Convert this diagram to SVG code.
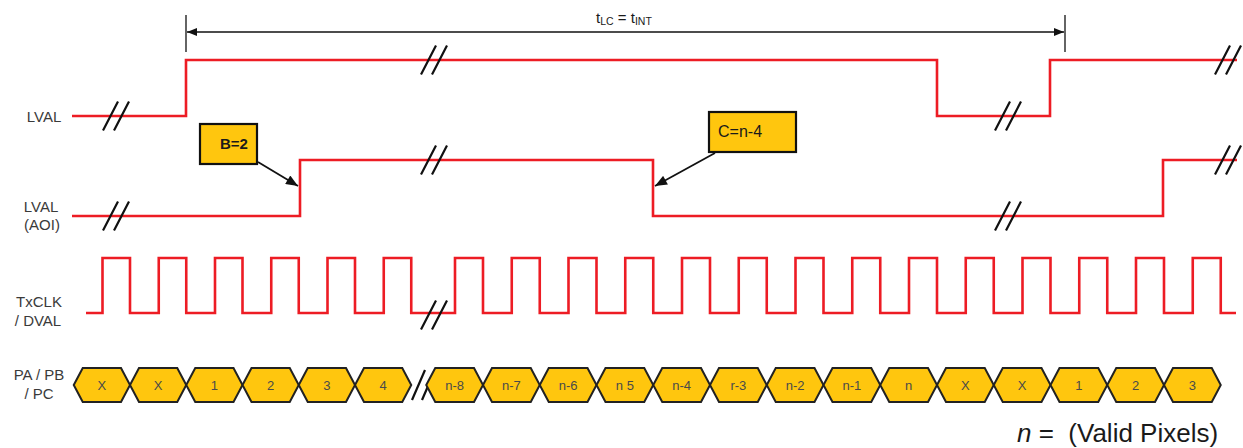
<svg xmlns="http://www.w3.org/2000/svg" width="1243" height="448" viewBox="0 0 1243 448">
<style>
.sig{fill:none;stroke:#ED1C24;stroke-width:2.6;stroke-linejoin:miter}
.brk{fill:none;stroke:#111;stroke-width:2.2}
.lbl{font-family:"Liberation Sans",Arial,sans-serif;font-size:15px;fill:#3a3a3a;text-anchor:middle}
.hex{fill:#FFC60E;stroke:#222;stroke-width:2}
.ht{font-family:"Liberation Sans",Arial,sans-serif;font-size:13px;fill:#4a4a4a;text-anchor:middle}
.box{fill:#FFC60E;stroke:#111;stroke-width:2.2}
.bt{font-family:"Liberation Sans",Arial,sans-serif;fill:#1a1a1a}
.dim{stroke:#111;stroke-width:1.3;fill:none}
.call{stroke:#111;stroke-width:1.8;fill:none}
</style>
<defs>
<marker id="ah" viewBox="0 0 10 8" refX="10" refY="4" markerWidth="11" markerHeight="8" orient="auto-start-reverse" markerUnits="userSpaceOnUse"><path d="M0,0 L10,4 L0,8 z" fill="#111"/></marker>
<marker id="ah2" viewBox="0 0 12 10" refX="12" refY="5" markerWidth="13" markerHeight="10" orient="auto" markerUnits="userSpaceOnUse"><path d="M0,0 L12,5 L0,10 z" fill="#111"/></marker>
<path id="br" class="brk" d="M-13,14.5 L2,-14.5 M-2,14.5 L13,-14.5"/>
</defs>

<g id="dimension">
<line class="dim" x1="186" y1="15" x2="186" y2="52"/>
<line class="dim" x1="1065" y1="15" x2="1065" y2="52"/>
<text class="bt" x="596" y="23" font-size="15" fill="#333">t<tspan font-size="10.5" dy="2">LC</tspan><tspan dy="-2"> = t</tspan><tspan font-size="10.5" dy="2">INT</tspan></text>
</g>

<g id="labels">
<text class="lbl" x="44" y="122">LVAL</text>
<text class="lbl" x="41" y="212">LVAL</text>
<text class="lbl" x="42" y="230">(AOI)</text>
<text class="lbl" x="39" y="307">TxCLK</text>
<text class="lbl" x="38" y="326">/ DVAL</text>
<text class="lbl" x="39" y="380">PA / PB</text>
<text class="lbl" x="39" y="399">/ PC</text>
</g>

<g id="lval">
<path class="sig" d="M72,116 H186 V60 H937 V116 H1050 V60 H1237"/>
<use href="#br" x="116" y="116"/>
<use href="#br" x="434" y="60"/>
<use href="#br" x="1008" y="116"/>
<use href="#br" x="1228" y="60"/>
</g>

<g id="lval-aoi">
<path class="sig" d="M72,216 H300 V160 H653 V216 H1163 V160 H1237"/>
<use href="#br" x="116" y="216"/>
<use href="#br" x="434" y="160"/>
<use href="#br" x="1008" y="216"/>
<use href="#br" x="1228" y="160"/>
</g>

<g id="txclk">
<path class="sig" d="M86,313 H102.5 V258 H130 V313 H158.75 V258 H186.25 V313 H215 V258 H242.5 V313 H271.25 V258 H298.75 V313 H327.5 V258 H355 V313 H383.75 V258 H411.25 V313 H455 V258 H483 V313 H511.75 V258 H539.75 V313 H568.5 V258 H596.5 V313 H625.25 V258 H653.25 V313 H682 V258 H710 V313 H738.75 V258 H766.75 V313 H795.5 V258 H823.5 V313 H852.25 V258 H880.25 V313 H909 V258 H937 V313 H965.75 V258 H993.75 V313 H1022.5 V258 H1050.5 V313 H1079.25 V258 H1107.25 V313 H1136 V258 H1164 V313 H1192.75 V258 H1220.75 V313 H1236"/>
<use href="#br" x="434" y="315"/>
</g>

<g id="pixels">
<g id="px1"><polygon class="hex" points="73.75,385 82.75,368 121,368 130,385 121,402 82.75,402"/><text class="ht" x="101.9" y="390">X</text></g>
<g id="px2"><polygon class="hex" points="130,385 139,368 177.25,368 186.25,385 177.25,402 139,402"/><text class="ht" x="158.1" y="390">X</text></g>
<g id="px3"><polygon class="hex" points="186.25,385 195.25,368 233.5,368 242.5,385 233.5,402 195.25,402"/><text class="ht" x="214.4" y="390">1</text></g>
<g id="px4"><polygon class="hex" points="242.5,385 251.5,368 289.75,368 298.75,385 289.75,402 251.5,402"/><text class="ht" x="270.6" y="390">2</text></g>
<g id="px5"><polygon class="hex" points="298.75,385 307.75,368 346,368 355,385 346,402 307.75,402"/><text class="ht" x="326.9" y="390">3</text></g>
<g id="px6"><polygon class="hex" points="355,385 364,368 402.25,368 411.25,385 402.25,402 364,402"/><text class="ht" x="383.1" y="390">4</text></g>
<path class="brk" d="M412,400 L425,370 M422,400 L435,370"/>
<g id="px7"><polygon class="hex" points="426.25,385 435.25,368 474,368 483,385 474,402 435.25,402"/><text class="ht" x="454.6" y="390">n-8</text></g>
<g id="px8"><polygon class="hex" points="483,385 492,368 530.75,368 539.75,385 530.75,402 492,402"/><text class="ht" x="511.4" y="390">n-7</text></g>
<g id="px9"><polygon class="hex" points="539.75,385 548.75,368 587.5,368 596.5,385 587.5,402 548.75,402"/><text class="ht" x="568.1" y="390">n-6</text></g>
<g id="px10"><polygon class="hex" points="596.5,385 605.5,368 644.25,368 653.25,385 644.25,402 605.5,402"/><text class="ht" x="624.9" y="390">n 5</text></g>
<g id="px11"><polygon class="hex" points="653.25,385 662.25,368 701,368 710,385 701,402 662.25,402"/><text class="ht" x="681.6" y="390">n-4</text></g>
<g id="px12"><polygon class="hex" points="710,385 719,368 757.75,368 766.75,385 757.75,402 719,402"/><text class="ht" x="738.4" y="390">r-3</text></g>
<g id="px13"><polygon class="hex" points="766.75,385 775.75,368 814.5,368 823.5,385 814.5,402 775.75,402"/><text class="ht" x="795.1" y="390">n-2</text></g>
<g id="px14"><polygon class="hex" points="823.5,385 832.5,368 871.25,368 880.25,385 871.25,402 832.5,402"/><text class="ht" x="851.9" y="390">n-1</text></g>
<g id="px15"><polygon class="hex" points="880.25,385 889.25,368 928,368 937,385 928,402 889.25,402"/><text class="ht" x="908.6" y="390">n</text></g>
<g id="px16"><polygon class="hex" points="937,385 946,368 984.75,368 993.75,385 984.75,402 946,402"/><text class="ht" x="965.4" y="390">X</text></g>
<g id="px17"><polygon class="hex" points="993.75,385 1002.75,368 1041.5,368 1050.5,385 1041.5,402 1002.75,402"/><text class="ht" x="1022.1" y="390">X</text></g>
<g id="px18"><polygon class="hex" points="1050.5,385 1059.5,368 1098.25,368 1107.25,385 1098.25,402 1059.5,402"/><text class="ht" x="1078.9" y="390">1</text></g>
<g id="px19"><polygon class="hex" points="1107.25,385 1116.25,368 1155,368 1164,385 1155,402 1116.25,402"/><text class="ht" x="1135.6" y="390">2</text></g>
<g id="px20"><polygon class="hex" points="1164,385 1173,368 1211.75,368 1220.75,385 1211.75,402 1173,402"/><text class="ht" x="1192.4" y="390">3</text></g>
</g>

<g id="callout-b">
<rect class="box" x="200" y="124" width="57" height="40"/>
<text class="bt" x="234" y="149" font-size="15" font-weight="bold" text-anchor="middle">B=2</text>
</g>

<g id="callout-c">
<rect class="box" x="709" y="112" width="87" height="40"/>
<text class="bt" x="718" y="137" font-size="16">C=n-4</text>
</g>

<g id="connectors">
<line class="dim" x1="187" y1="32" x2="1064" y2="32" marker-start="url(#ah)" marker-end="url(#ah)"/>
<line class="call" x1="258" y1="162" x2="298" y2="186" marker-end="url(#ah2)"/>
<line class="call" x1="715" y1="153" x2="655" y2="186" marker-end="url(#ah2)"/>
</g>

<g id="note">
<text class="bt" x="1017" y="442" font-size="26" fill="#333" style="white-space:pre" xml:space="preserve"><tspan font-style="italic">n</tspan> =  (Valid Pixels)</text>
</g>
</svg>
